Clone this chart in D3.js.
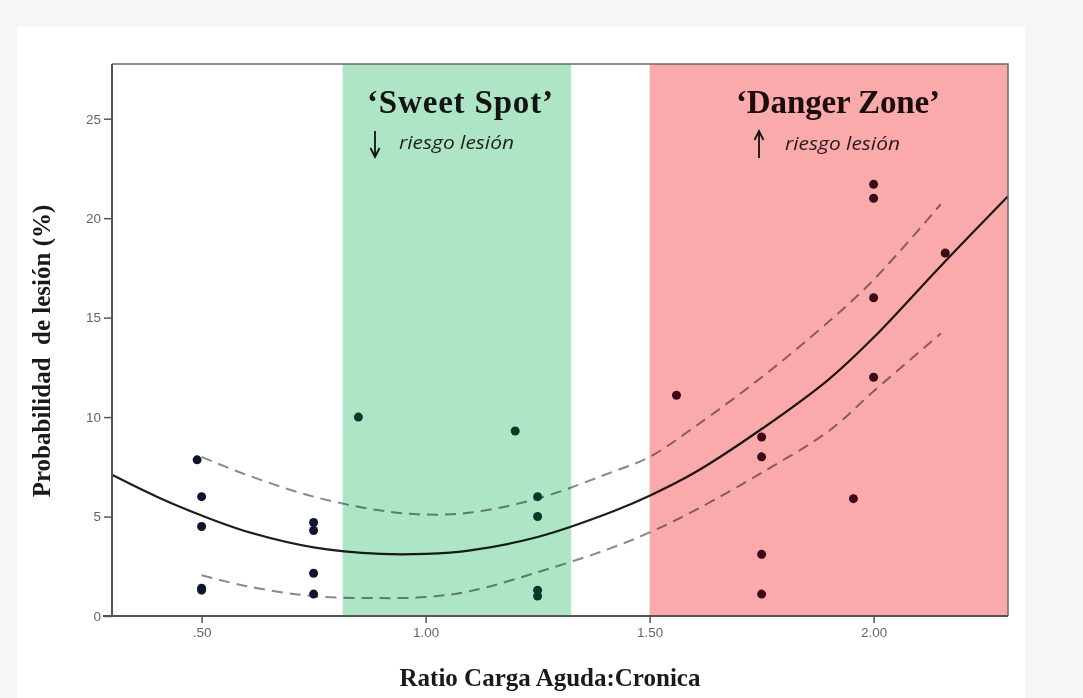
<!DOCTYPE html>
<html>
<head>
<meta charset="utf-8">
<script src="https://cdn.jsdelivr.net/npm/d3@7"></script>
<style>
  body { margin: 0; background: #f6f6f6; }
  svg { display: block; }
</style>
</head>
<body>
<svg id="chart" width="1083" height="698"></svg>
<script>
// observed points (ratio acute:chronic, injury probability %)
const ratio  = [0.49, 0.50, 0.50, 0.50, 0.50, 0.75, 0.75, 0.75, 0.75, 0.85, 1.20, 1.25, 1.25, 1.25, 1.25,
                1.56, 1.75, 1.75, 1.75, 1.75, 1.955, 2.00, 2.00, 2.00, 2.00, 2.16];
const injury = [7.85, 6.0, 4.5, 1.4, 1.3, 4.7, 4.3, 2.15, 1.1, 10.0, 9.3, 6.0, 5.0, 1.3, 1.0,
                11.1, 9.0, 8.0, 3.1, 1.1, 5.9, 21.7, 21.0, 16.0, 12.0, 18.25];

// fitted curve
const fitRatio  = [0.3, 0.4, 0.5, 0.6, 0.75, 0.9, 1.0, 1.1, 1.25, 1.4, 1.5, 1.6, 1.75, 1.9, 2.0, 2.15, 2.3];
const fitInjury = [7.1, 6.0, 5.05, 4.25, 3.45, 3.12, 3.12, 3.3, 3.97, 5.1, 6.05, 7.2, 9.4, 11.9, 14.0, 17.6, 21.1];

// confidence band (dashed)
const ciRatio = [0.5, 0.6, 0.75, 0.9, 1.0, 1.1, 1.25, 1.4, 1.5, 1.6, 1.75, 1.9, 2.0, 2.15];
const ciUpper = [8.0, 7.1, 6.0, 5.3, 5.1, 5.2, 5.9, 7.1, 8.0, 9.5, 12.0, 14.8, 16.9, 20.7];
const ciLower = [2.05, 1.5, 1.0, 0.9, 0.95, 1.25, 2.2, 3.3, 4.2, 5.3, 7.2, 9.3, 11.3, 14.2];

const yTicks = [0, 5, 10, 15, 20, 25];
const xTicks = [0.5, 1.0, 1.5, 2.0];
const xTickLabels = [".50", "1.00", "1.50", "2.00"];

const sweetSpot = [0.815, 1.325];
const dangerZone = [1.5, 2.3];

const svg = d3.select("#chart");

// white card
svg.append("rect").attr("x", 17).attr("y", 27).attr("width", 1008).attr("height", 671).attr("fill", "#fff");

const mLeft = 112, mRight = 1008, mTop = 64, mBottom = 616;

let x = d3.scaleLinear().domain([0.3, 2.3]).range([mLeft, mRight]);
let y = d3.scaleLinear().domain([0, 27.75]).range([mBottom, mTop]);

const plot = svg.append("g");

// lines first, bands multiply on top of them
let line = d3.line().x(d => x(d[0])).y(d => y(d[1])).curve(d3.curveCatmullRom.alpha(0.5));

plot.append("path")
    .datum(ciRatio.map((r, i) => [r, ciUpper[i]]))
    .attr("d", line)
    .attr("fill", "none").attr("stroke", "#8a8a8a").attr("stroke-width", 2)
    .attr("stroke-dasharray", "11,7");

plot.append("path")
    .datum(ciRatio.map((r, i) => [r, ciLower[i]]))
    .attr("d", line)
    .attr("fill", "none").attr("stroke", "#8a8a8a").attr("stroke-width", 2)
    .attr("stroke-dasharray", "11,7");

plot.append("path")
    .datum(fitRatio.map((r, i) => [r, fitInjury[i]]))
    .attr("d", line)
    .attr("fill", "none").attr("stroke", "#1e1e1e").attr("stroke-width", 2.2);

const bands = [
    {range: sweetSpot, color: "#ade5c5"},
    {range: dangerZone, color: "#fbaaab"}
];
plot.selectAll("rect.band")
    .data(bands)
    .enter()
    .append("rect")
    .attr("class", "band")
    .attr("x", d => x(d.range[0]))
    .attr("width", d => x(d.range[1]) - x(d.range[0]))
    .attr("y", mTop)
    .attr("height", mBottom - mTop)
    .attr("fill", d => d.color)
    .style("mix-blend-mode", "multiply");

// dots, tinted by zone
function dotColor(r) {
    if (r >= sweetSpot[0] && r <= sweetSpot[1]) return "#093a29";
    if (r >= dangerZone[0]) return "#3c0717";
    return "#0d1530";
}
plot.selectAll("circle")
    .data(ratio.map((r, i) => [r, injury[i]]))
    .enter()
    .append("circle")
    .attr("cx", d => x(d[0]))
    .attr("cy", d => y(d[1]))
    .attr("r", 4.5)
    .attr("fill", d => dotColor(d[0]));

// frame
svg.append("path")
    .attr("d", `M${mLeft},${mTop}H${mRight}V${mBottom}`)
    .attr("fill", "none").attr("stroke", "#6a6a6a").attr("stroke-width", 1.5);

// axes
let yAxis = svg.append("g")
    .attr("transform", `translate(${mLeft},0)`)
    .call(d3.axisLeft(y).tickValues(yTicks).tickSize(8).tickPadding(3).tickFormat(d3.format("d")));
let xAxis = svg.append("g")
    .attr("transform", `translate(0,${mBottom})`)
    .call(d3.axisBottom(x).tickValues(xTicks).tickSize(7).tickPadding(4)
        .tickFormat((d, i) => xTickLabels[i]));

[yAxis, xAxis].forEach(a => {
    a.select(".domain").attr("stroke", "#555").attr("stroke-width", 2);
    a.selectAll(".tick line").attr("stroke", "#555").attr("stroke-width", 1.5);
    a.selectAll(".tick text").attr("fill", "#666").style("font-family", "Liberation Sans, Arial, sans-serif").style("font-size", "13.5px");
});
// x axis line reaches a bit left of the y axis like the original
xAxis.select(".domain").attr("d", `M${mLeft - 9},0H${mRight}`);
yAxis.select(".domain").attr("d", `M0,${mTop}V${mBottom}`);

// zone titles
const serif = "Liberation Serif, Times New Roman, serif";
svg.append("text").attr("x", 460).attr("y", 113).attr("text-anchor", "middle")
    .style("font-family", serif).style("font-weight", "bold").style("font-size", "33px")
    .attr("textLength", 186).attr("lengthAdjust", "spacing")
    .attr("fill", "#141414").text("\u2018Sweet Spot\u2019");
svg.append("text").attr("x", 838).attr("y", 113).attr("text-anchor", "middle")
    .style("font-family", serif).style("font-weight", "bold").style("font-size", "33px")
    .attr("textLength", 204).attr("lengthAdjust", "spacing")
    .attr("fill", "#1c0c0c").text("\u2018Danger Zone\u2019");

const italic = "Open Sans, Lato, sans-serif";
svg.append("text").attr("x", 399).attr("y", 149)
    .style("font-family", italic).style("font-style", "italic").style("font-size", "17.5px")
    .attr("textLength", 115).attr("lengthAdjust", "spacingAndGlyphs")
    .attr("fill", "#1f1f1f").text("riesgo lesión");
svg.append("text").attr("x", 785).attr("y", 150)
    .style("font-family", italic).style("font-style", "italic").style("font-size", "17.5px")
    .attr("textLength", 115).attr("lengthAdjust", "spacingAndGlyphs")
    .attr("fill", "#2a1a1a").text("riesgo lesión");

// arrows
function arrow(ax, y1, y2) {
    const dir = y2 > y1 ? 1 : -1;
    svg.append("path")
        .attr("d", `M${ax},${y1}V${y2}M${ax - 4.5},${y2 - dir * 9}L${ax},${y2}L${ax + 4.5},${y2 - dir * 9}`)
        .attr("fill", "none").attr("stroke", "#111").attr("stroke-width", 1.8);
}
arrow(375, 131, 157);
arrow(759, 158, 131);

// axis titles
svg.append("text")
    .attr("transform", "translate(50,351) rotate(-90)")
    .attr("text-anchor", "middle")
    .style("font-family", serif).style("font-weight", "bold").style("font-size", "25px")
    .style("white-space", "pre")
    .attr("fill", "#1a1a1a")
    .text("Probabilidad  de lesión (%)");
svg.append("text")
    .attr("x", 550).attr("y", 686)
    .attr("text-anchor", "middle")
    .style("font-family", serif).style("font-weight", "bold").style("font-size", "25px")
    .attr("fill", "#1a1a1a")
    .text("Ratio Carga Aguda:Cronica");
</script>
</body>
</html>
